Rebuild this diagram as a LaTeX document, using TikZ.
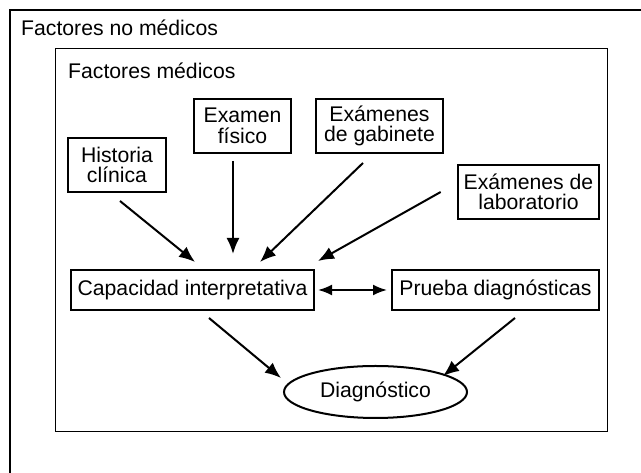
\documentclass[tikz,border=0pt]{standalone}
\usepackage{fontspec}
\setmainfont{Liberation Sans}
\usetikzlibrary{shapes,arrows.meta}
\tikzstyle{block} = [draw, line width=2pt, rectangle, minimum height=40pt,
    inner xsep=6pt, inner ysep=0pt]
\tikzstyle{tallblock} = [block, minimum height=54pt, align=center]
\tikzstyle{result} = [draw, line width=2pt, ellipse, minimum width=183pt,
    minimum height=52pt, inner sep=0pt]
\tikzstyle{frame} = [line width=1pt]
\tikzstyle{framelabel} = [anchor=base west, inner sep=0pt]
\tikzstyle{link} = [line width=2pt, ->]

\begin{document}
\begin{tikzpicture}[auto, x=1pt, y=1pt, node distance=304pt,
    >={Latex[length=16pt,width=13pt]}, font=\fontsize{21.2}{20.5}\selectfont]
          \useasboundingbox (0,0) rectangle (641,473);
          \clip (0,0) rectangle (641,473);

          % Frames
          \draw [line width=2.5pt] (10,463) rectangle (670,-20);
          \draw [frame] (55,424) rectangle (607,41);
          \node [framelabel] (nomed) at (21,437) {Factores no médicos};
          \node [framelabel] (med) at (68,394) {Factores médicos};

          % Place the blocks
          \node [tallblock, minimum width=98pt] (hist) at (117,308) {Historia\\clínica};
          \node [tallblock, minimum width=97pt] (exam) at (242.5,347) {Examen\\físico};
          \node [tallblock, minimum width=127pt] (gab) at (379.5,347) {Exámenes\\de gabinete};
          \node [tallblock, minimum width=141pt] (lab) at (528.5,281) {Exámenes de\\laboratorio};
          \node [block, minimum width=243pt] (cap) at (192.5,183) {Capacidad interpretativa};
          \node [block, minimum width=207pt, right of=cap, node distance=303pt] (prueba) {Prueba diagnósticas};
          \node [result] (diag) at (375.5,81) {Diagnóstico};

          % Connections
          \draw [link] ([shift={(3,-8)}]hist.south) -- ([shift={(2.5,7)}]cap.north);
          \draw [link] ([shift={(-9.5,-7)}]exam.south) -- ([shift={(40.5,15)}]cap.north);
          \draw [link] ([shift={(-16.5,-9)}]gab.south) -- ([shift={(67.5,7)}]cap.north);
          \draw [link] ([shift={(-16,0)}]lab.west) -- ([shift={(3,8)}]cap.north east);
          \draw [link, <->, >={Latex[length=14pt,width=11pt]}] ([xshift=3pt]cap.east) -- ([xshift=-4pt]prueba.west);
          \draw [link] ([shift={(16.5,-7)}]cap.south) -- ([shift={(-2,14)}]diag.west);
          \draw [link] ([shift={(19.5,-7)}]prueba.south) -- ([shift={(-25,16)}]diag.east);
      \end{tikzpicture}
\end{document}
